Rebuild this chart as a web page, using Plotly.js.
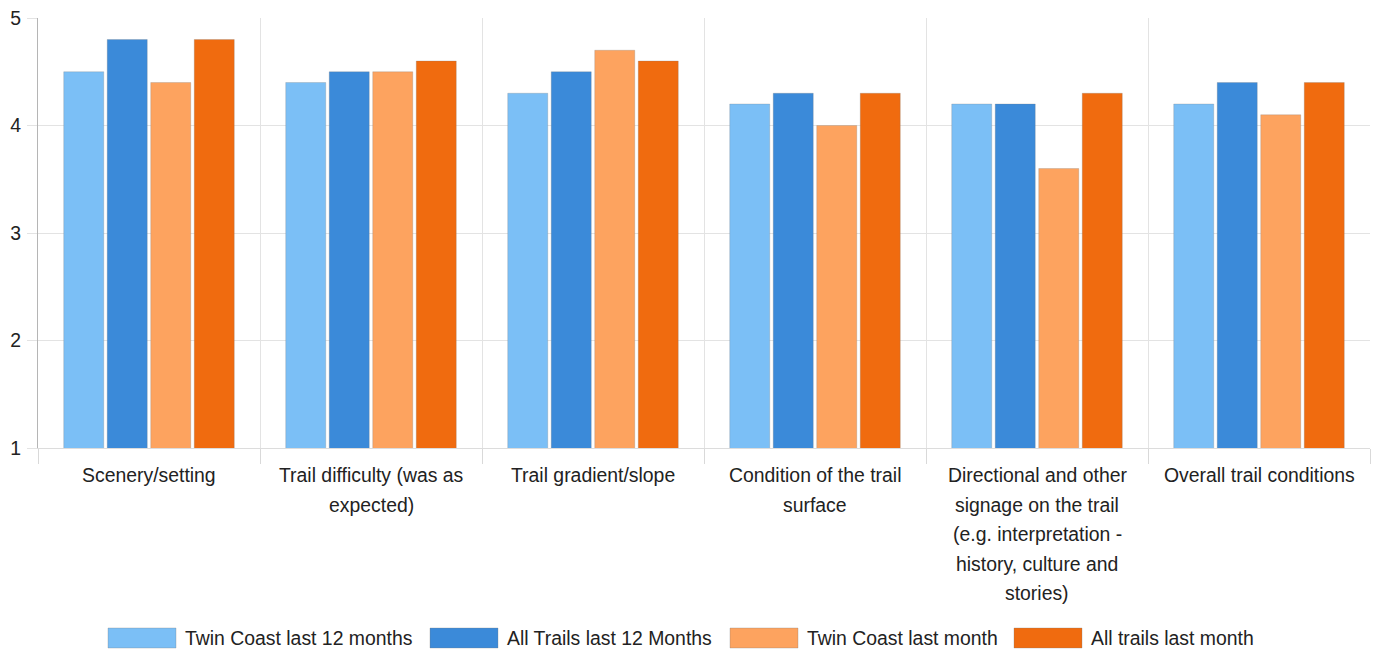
<!DOCTYPE html>
<html>
<head>
<meta charset="utf-8">
<script src="https://cdn.plot.ly/plotly-3.0.1.min.js"></script>
<style>html,body{margin:0;padding:0;background:#fff;}#chart{width:1377px;height:653px;}</style>
</head>
<body>
<div id="chart"></div>
<script>
const categories = [
  "Scenery/setting",
  "Trail difficulty (was as<br>expected)",
  "Trail gradient/slope",
  "Condition of the trail<br>surface",
  "Directional and other<br>signage on the trail<br>(e.g. interpretation -<br>history, culture and<br>stories)",
  "Overall trail conditions"
];
const seriesNames = ["Twin Coast last 12 months", "All Trails last 12 Months", "Twin Coast last month", "All trails last month"];
const twinCoast12 = [4.5, 4.4, 4.3, 4.2, 4.2, 4.2];
const allTrails12 = [4.8, 4.5, 4.5, 4.3, 4.2, 4.4];
const twinCoastMonth = [4.4, 4.5, 4.7, 4.0, 3.6, 4.1];
const allTrailsMonth = [4.8, 4.6, 4.6, 4.3, 4.3, 4.4];
const yTicks = [1, 2, 3, 4, 5];

const colors = ["#7bbff6", "#3b8ad9", "#fda35f", "#f06b0f"];
const seriesValues = [twinCoast12, allTrails12, twinCoastMonth, allTrailsMonth];
const catKeys = categories.map((c, i) => "c" + i);

const traces = seriesValues.map((vals, k) => ({
  type: "bar",
  name: seriesNames[k],
  x: catKeys,
  y: vals,
  base: 0,
  marker: {color: colors[k], line: {color: "rgba(120,120,120,0.25)", width: 1}},
  hoverinfo: "y+name",
  showlegend: false
}));

const font = "Liberation Sans, Arial, sans-serif";
const fsize = 19.4;
const annotations = [];
categories.forEach((c, i) => {
  c.split("<br>").forEach((line, j) => {
    annotations.push({
      xref: "x", yref: "paper", x: catKeys[i], y: 0,
      yanchor: "middle", xanchor: "center",
      yshift: -(27 + j * 29.5),
      text: line, showarrow: false,
      font: {family: font, size: fsize, color: "#222"}
    });
  });
});

// custom legend
const legendSwatchX = [108, 430, 730, 1014];
const shapes = [];
const plotL = 38, plotW = 1332, plotB = 448, plotH = 430;
const px = v => (v - plotL) / plotW;
const py = v => (plotB - v) / plotH;
seriesNames.forEach((n, k) => {
  const x0 = legendSwatchX[k];
  shapes.push({type: "rect", xref: "paper", yref: "paper",
    x0: px(x0), x1: px(x0 + 68), y0: py(648), y1: py(628),
    fillcolor: colors[k], line: {color: "rgba(120,120,120,0.3)", width: 1}});
  annotations.push({xref: "paper", yref: "paper", x: px(x0 + 75), y: py(638),
    xanchor: "left", yanchor: "middle", text: n, showarrow: false,
    font: {family: font, size: fsize, color: "#222"}});
});

const layout = {
  width: 1377, height: 653,
  margin: {l: 38, r: 7, t: 18, b: 205},
  paper_bgcolor: "#fff", plot_bgcolor: "#fff",
  barmode: "group", bargap: 0.216, bargroupgap: 0.08,
  showlegend: false,
  xaxis: {
    type: "category", tickson: "boundaries",
    showgrid: true, gridcolor: "#e3e3e3", gridwidth: 1,
    ticks: "outside", ticklen: 15, tickcolor: "#d9d9d9",
    showticklabels: false, showline: true, linecolor: "#dcdcdc",
    fixedrange: true
  },
  yaxis: {
    range: [1, 5], tickvals: yTicks, ticktext: yTicks.map(String),
    showgrid: true, gridcolor: "#e3e3e3",
    ticks: "outside", ticklen: 10, tickcolor: "#e3e3e3",
    showline: true, linecolor: "#b5b5b5", zeroline: false,
    tickfont: {family: font, size: fsize, color: "#222"},
    ticklabelstandoff: 2
  },
  annotations: annotations,
  shapes: shapes
};

Plotly.newPlot("chart", traces, layout, {displayModeBar: false, staticPlot: true});
</script>
</body>
</html>
